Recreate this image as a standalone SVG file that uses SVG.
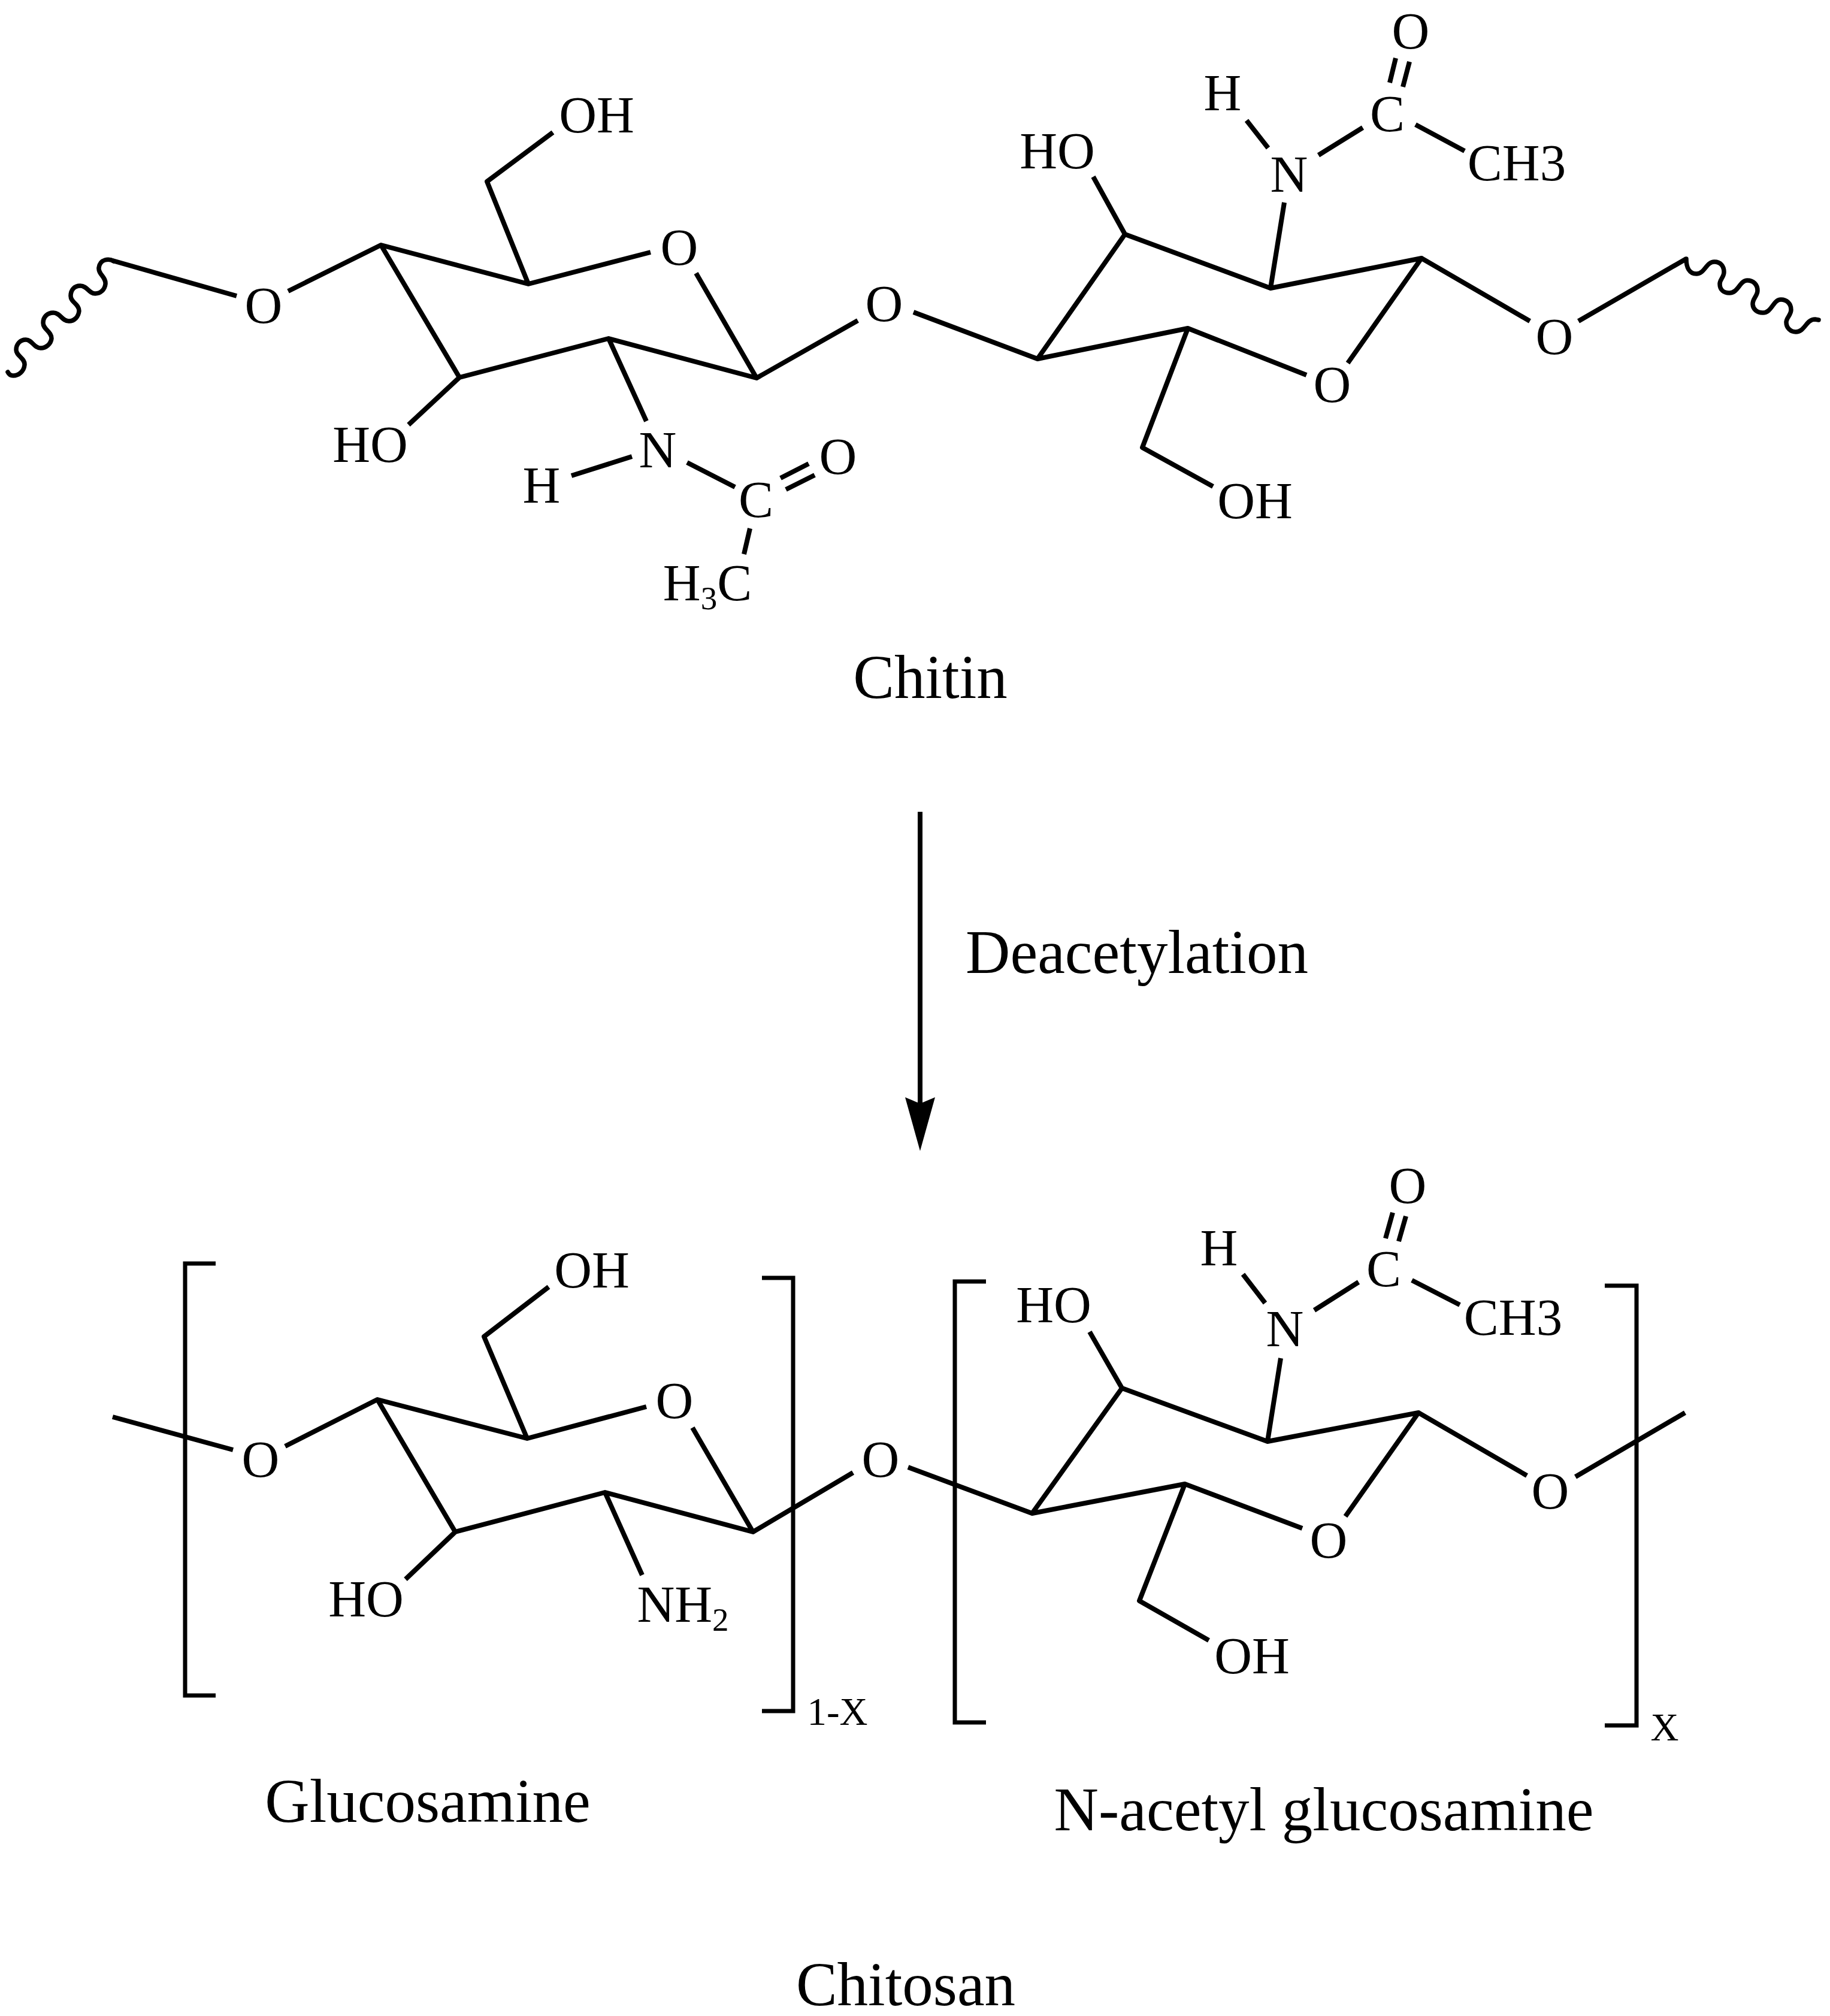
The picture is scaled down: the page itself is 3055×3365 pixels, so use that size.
<svg xmlns="http://www.w3.org/2000/svg" width="3055" height="3365" viewBox="0 0 3055 3365">
<style>
text{font-family:"Liberation Serif","Times New Roman",serif;fill:#000;text-anchor:middle}
.a{font-size:87px}
.l{font-size:103px}
.s{font-size:65px}
.sub{font-size:55px}
.b{fill:none;stroke:#000;stroke-width:8;stroke-linecap:butt;stroke-linejoin:round}
.w{fill:none;stroke:#000;stroke-width:7.5;stroke-linecap:round;stroke-linejoin:round}
.k{fill:none;stroke:#000;stroke-width:7;stroke-linecap:butt;stroke-linejoin:miter}
</style>
<defs>
<marker id="arrow" markerUnits="userSpaceOnUse" markerWidth="90" markerHeight="50" refX="10" refY="24" orient="auto" viewBox="0 0 86 48"><path d="M0 0L10 24L0 48L86 24Z" fill="#000"/></marker>
</defs>
<rect width="3055" height="3365" fill="#fff"/>
<g id="connectors">
<g id="chitin-bonds">
<path class="w" d="M190 436C182 431 167 432 165 447C164 458 177 462 176 474C175 484 167 490 159 490C148 490 146 477 134 477C124 477 118 484 118 494C118 505 132 507 132 519C131 529 124 536 115 536C103 536 101 522 89 522C79 522 72 529 72 539C72 550 86 553 86 565C85 574 77 581 68 581C56 581 54 567 43 567C34 567 27 574 27 584C27 594 42 598 41 609C40 620 31 627 22 627C18 627 15 625 13 621"/>
<path class="b" d="M188 435L395 494M481 486L636 409L882 474L1086 421M1162 456L1263 631L1016 565L767 630L636 409M882 474L813 303L923 221M767 630L682 709M1016 565L1079 703M954 794L1055 762M1147 772L1227 813M1303 798L1350 774M1312 817L1360 793M1252 882L1242 925M1263 631L1432 535"/>
<path class="b" d="M1525 521L1732 599L1878 391L2121 481L2373 431L2250 606M2181 626L1983 548L1732 599M1983 548L1907 747L2025 812M1825 295L1878 391M2144 338L2121 481M2081 201L2117 247M2201 259L2275 213M2330 97L2320 138M2353 103L2342 145M2363 208L2445 252M2373 431L2554 536M2635 536L2815 432"/>
<path class="w" d="M2815 432C2815 446 2820 457 2832 457C2846 457 2848 437 2862 437C2872 437 2878 444 2878 454C2878 463 2871 466 2871 474C2871 484 2878 489 2887 489C2902 489 2904 468 2917 468C2927 468 2934 475 2934 485C2934 494 2926 498 2926 507C2926 516 2933 522 2943 522C2958 522 2960 500 2973 500C2983 500 2990 507 2990 517C2990 526 2982 530 2982 538C2982 547 2989 554 2998 554C3013 554 3015 533 3030 533L3036 534"/>
</g>
<g id="reaction-arrow">
<path d="M1536 1355V1842" fill="none" stroke="#000" stroke-width="8" marker-end="url(#arrow)"/>
</g>
<g id="chitosan-bonds">
<path class="b" d="M188 2365L389 2420M476 2414L630 2336L880 2401L1079 2348M1156 2383L1257 2557L1010 2491L760 2557L630 2336M880 2401L808 2231L916 2148M760 2557L677 2636M1010 2491L1072 2629M1257 2557L1424 2458"/>
<path class="b" d="M1516 2449L1723 2526L1873 2317L2116 2406L2368 2358L2246 2531M2174 2551L1978 2477L1723 2526M1978 2477L1902 2672L2018 2738M1819 2223L1873 2317M2116 2406L2138 2267M2075 2127L2112 2175M2194 2187L2268 2140M2325 2024L2313 2067M2347 2030L2335 2072M2357 2137L2437 2178M2368 2358L2549 2463M2630 2465L2813 2358"/>
<path class="k" d="M360 2109H309V2830H360"/>
<path class="k" d="M1272 2133H1324V2856H1272"/>
<path class="k" d="M1646 2139H1594V2875H1646"/>
<path class="k" d="M2679 2146H2732V2880H2679"/>
</g>
</g>
<g id="chitin-labels">
<g id="c-o1"><text class="a" x="440" y="539">O</text></g>
<g id="c-oh1"><text class="a" x="996" y="221">OH</text></g>
<g id="c-o2"><text class="a" x="1134" y="442">O</text></g>
<g id="c-ho1"><text class="a" x="618" y="771">HO</text></g>
<g id="c-n1"><text class="a" x="1098" y="780">N</text></g>
<g id="c-h1"><text class="a" x="904" y="839">H</text></g>
<g id="c-c1"><text class="a" x="1262" y="863">C</text></g>
<g id="c-o3"><text class="a" x="1399" y="791">O</text></g>
<g id="c-h3c"><text class="a" x="1181" y="1002">H<tspan class="sub" dy="15">3</tspan><tspan dy="-15">C</tspan></text></g>
<g id="c-o4"><text class="a" x="1476" y="536">O</text></g>
<g id="c-ho2"><text class="a" x="1765" y="281">HO</text></g>
<g id="c-h2"><text class="a" x="2041" y="184">H</text></g>
<g id="c-n2"><text class="a" x="2152" y="320">N</text></g>
<g id="c-c2"><text class="a" x="2316" y="219">C</text></g>
<g id="c-o5"><text class="a" x="2355" y="81">O</text></g>
<g id="c-ch3"><text class="a" x="2532" y="301">CH3</text></g>
<g id="c-o6"><text class="a" x="2224" y="671">O</text></g>
<g id="c-oh2"><text class="a" x="2095" y="865">OH</text></g>
<g id="c-o7"><text class="a" x="2595" y="591">O</text></g>
</g>
<g id="chitin-title"><text class="l" x="1553" y="1165">Chitin</text></g>
<g id="deacetylation-label"><text class="l" x="1898" y="1624">Deacetylation</text></g>
<g id="chitosan-labels">
<g id="t-o1"><text class="a" x="435" y="2465">O</text></g>
<g id="t-oh1"><text class="a" x="988" y="2149">OH</text></g>
<g id="t-o2"><text class="a" x="1126" y="2367">O</text></g>
<g id="t-ho1"><text class="a" x="611" y="2698">HO</text></g>
<g id="t-nh2"><text class="a" x="1140" y="2707">NH<tspan class="sub" dy="15">2</tspan></text></g>
<g id="t-o3"><text class="a" x="1470" y="2465">O</text></g>
<g id="t-1x"><text class="s" x="1398" y="2879">1-X</text></g>
<g id="t-ho2"><text class="a" x="1759" y="2207">HO</text></g>
<g id="t-h"><text class="a" x="2035" y="2112">H</text></g>
<g id="t-n"><text class="a" x="2145" y="2247">N</text></g>
<g id="t-c"><text class="a" x="2310" y="2147">C</text></g>
<g id="t-o4"><text class="a" x="2350" y="2008">O</text></g>
<g id="t-ch3"><text class="a" x="2526" y="2228">CH3</text></g>
<g id="t-o5"><text class="a" x="2218" y="2600">O</text></g>
<g id="t-oh2"><text class="a" x="2090" y="2793">OH</text></g>
<g id="t-o6"><text class="a" x="2588" y="2518">O</text></g>
<g id="t-x"><text class="s" x="2779" y="2905">X</text></g>
</g>
<g id="glucosamine-title"><text class="l" x="714" y="3041">Glucosamine</text></g>
<g id="nacetyl-title"><text class="l" x="2210" y="3055">N-acetyl glucosamine</text></g>
<g id="chitosan-title"><text class="l" x="1512" y="3347">Chitosan</text></g>
</svg>
